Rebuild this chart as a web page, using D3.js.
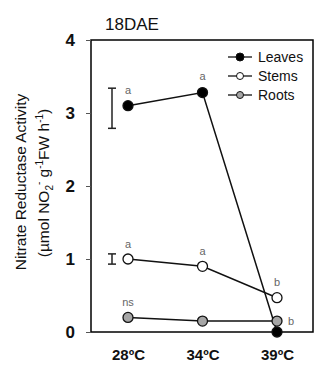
<!DOCTYPE html>
<html>
<head>
<meta charset="utf-8">
<script src="https://cdn.jsdelivr.net/npm/d3@7"></script>
<style>
  body { margin: 0; background: #fff; }
  svg { font-family: Arial, "Liberation Sans", sans-serif; }
</style>
</head>
<body>
<svg id="chart" width="316" height="365"></svg>
<script>
const temps = ["28ºC", "34ºC", "39ºC"];
const leaves = [3.1, 3.28, 0.0];
const stems = [1.0, 0.9, 0.47];
const roots = [0.2, 0.15, 0.15];
const leavesLetters = ["a", "a", ""];
const stemsLetters = ["a", "a", "b"];
const rootsLetters = ["ns", "", "b"];
const errBars = [{ lo: 2.79, hi: 3.34 }, { lo: 0.93, hi: 1.07 }];
const yTicks = [0, 1, 2, 3, 4];

const width = 316;
const height = 365;
const margin = { top: 40, right: 3, bottom: 33, left: 91 };

const svg = d3.select("#chart");

const x = d3.scalePoint()
  .domain(temps)
  .range([128, 277]);

const y = d3.scaleLinear()
  .domain([0, 4])
  .range([height - margin.bottom, margin.top]);

// frame
svg.append("rect")
  .attr("x", margin.left)
  .attr("y", margin.top)
  .attr("width", width - margin.left - margin.right)
  .attr("height", height - margin.top - margin.bottom)
  .attr("fill", "none")
  .attr("stroke", "#000")
  .attr("stroke-width", 1.5);

// y axis
const yAxis = d3.axisLeft(y).tickValues(yTicks).tickSize(5).tickPadding(11).tickFormat(d3.format("d"));
const gy = svg.append("g")
  .attr("transform", `translate(${margin.left},0)`)
  .call(yAxis);
gy.select(".domain").remove();
gy.selectAll("line").attr("stroke", "#555");
gy.selectAll("text")
  .attr("font-size", 17)
  .attr("font-weight", "bold")
  .attr("fill", "#111");

// x axis
const xAxis = d3.axisBottom(x).tickSize(0).tickPadding(17);
const gx = svg.append("g")
  .attr("transform", `translate(0,${height - margin.bottom})`)
  .call(xAxis);
gx.select(".domain").remove();
gx.selectAll("text")
  .attr("font-size", 15)
  .attr("font-weight", "bold")
  .attr("fill", "#111");

// title
svg.append("text")
  .attr("x", 105)
  .attr("y", 30)
  .attr("font-size", 17)
  .attr("fill", "#111")
  .text("18DAE");

// y label
const yl = svg.append("text")
  .attr("transform", `translate(26,${y(2) - 4}) rotate(-90)`)
  .attr("text-anchor", "middle")
  .attr("font-size", 15.5)
  .attr("fill", "#111");
yl.append("tspan").attr("x", 0).attr("dy", 0).text("Nitrate Reductase Activity");
const l2 = svg.append("text")
  .attr("transform", `translate(49,${y(2) - 3}) rotate(-90)`)
  .attr("text-anchor", "middle")
  .attr("font-size", 15.5)
  .attr("fill", "#111");
l2.append("tspan").text("(µmol NO");
l2.append("tspan").attr("font-size", 10).attr("dy", 4).text("2");
l2.append("tspan").attr("font-size", 10).attr("dy", -11).text("-");
l2.append("tspan").attr("dy", 7).text("  g");
l2.append("tspan").attr("font-size", 10).attr("dy", -6).text("-1");
l2.append("tspan").attr("dy", 6).text("FW h");
l2.append("tspan").attr("font-size", 10).attr("dy", -6).text("-1");
l2.append("tspan").attr("dy", 6).text(")");

// error bars
const ebX = 112;
errBars.forEach(e => {
  const g = svg.append("g").attr("stroke", "#222").attr("stroke-width", 1.5);
  g.append("line").attr("x1", ebX).attr("x2", ebX).attr("y1", y(e.hi)).attr("y2", y(e.lo));
  g.append("line").attr("x1", ebX - 4).attr("x2", ebX + 4).attr("y1", y(e.hi)).attr("y2", y(e.hi));
  g.append("line").attr("x1", ebX - 4).attr("x2", ebX + 4).attr("y1", y(e.lo)).attr("y2", y(e.lo));
});

const series = [
  { name: "Roots", values: roots, fill: "#a6a6a6", letters: rootsLetters },
  { name: "Stems", values: stems, fill: "#fff", letters: stemsLetters },
  { name: "Leaves", values: leaves, fill: "#000", letters: leavesLetters }
];

const line = d3.line()
  .x((d, i) => x(temps[i]))
  .y(d => y(d));

series.forEach(s => {
  svg.append("path")
    .datum(s.values)
    .attr("d", line)
    .attr("fill", "none")
    .attr("stroke", "#111")
    .attr("stroke-width", 1.5);
});

series.forEach(s => {
  svg.selectAll(null)
    .data(s.values)
    .enter()
    .append("circle")
    .attr("cx", (d, i) => x(temps[i]))
    .attr("cy", d => y(d))
    .attr("r", 5)
    .attr("fill", s.fill)
    .attr("stroke", "#111")
    .attr("stroke-width", 1.3);
});

// significance letters
const letterPos = {
  Leaves: [[0, -12], [0, -13], [0, 0]],
  Stems: [[0, -11], [0, -11], [0, -12]],
  Roots: [[0, -11], [0, 0], [14, 4]]
};
series.forEach(s => {
  s.values.forEach((v, i) => {
    if (!s.letters[i]) return;
    const off = letterPos[s.name][i];
    svg.append("text")
      .attr("x", x(temps[i]) + off[0])
      .attr("y", y(v) + off[1])
      .attr("text-anchor", "middle")
      .attr("font-size", 11)
      .attr("fill", "#666")
      .text(s.letters[i]);
  });
});

// legend
const legend = svg.append("g");
["Leaves", "Stems", "Roots"].forEach((name, i) => {
  const s = series.find(d => d.name === name);
  const ly = 57 + i * 19;
  legend.append("line")
    .attr("x1", 228).attr("x2", 252)
    .attr("y1", ly).attr("y2", ly)
    .attr("stroke", "#111").attr("stroke-width", 1.3);
  legend.append("circle")
    .attr("cx", 240).attr("cy", ly).attr("r", name === "Leaves" ? 4 : 3.5)
    .attr("fill", s.fill).attr("stroke", "#111").attr("stroke-width", 1);
  legend.append("text")
    .attr("x", 258).attr("y", ly + 5)
    .attr("font-size", 14)
    .attr("fill", "#111")
    .text(name);
});
</script>
</body>
</html>
